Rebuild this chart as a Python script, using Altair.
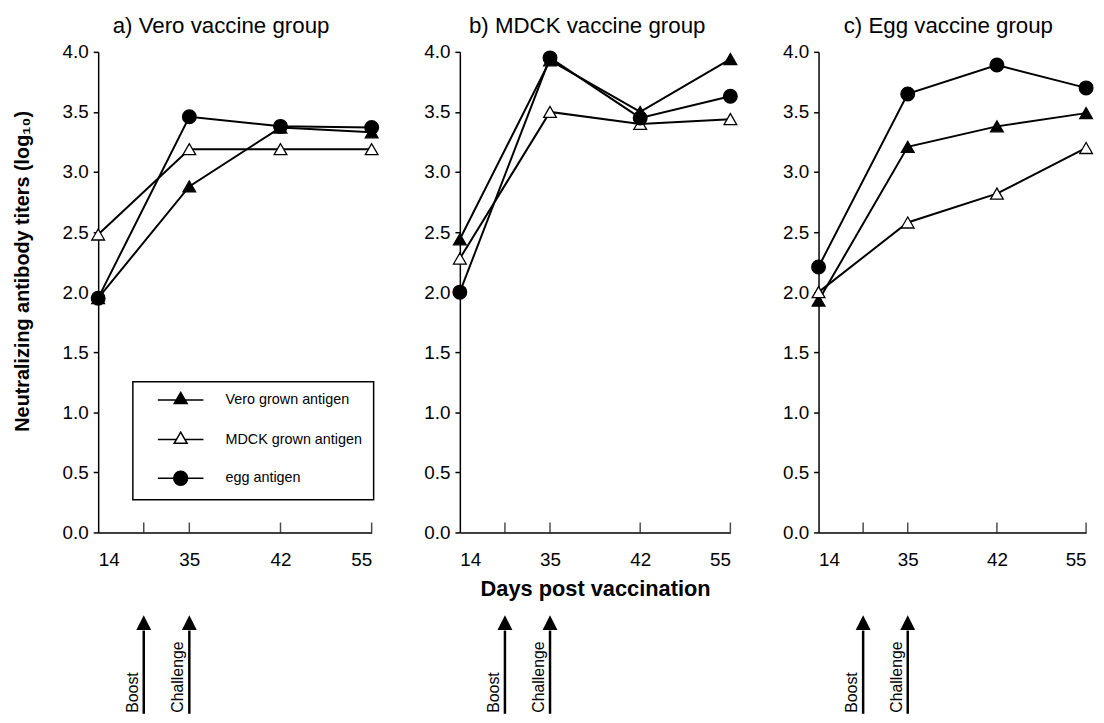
import altair as alt
import pandas as pd

FONT = "Liberation Sans"

# ---------------- data ----------------
days = [14, 35, 42, 55]
panel_titles = ["a) Vero vaccine group", "b) MDCK vaccine group", "c) Egg vaccine group"]
series_names = ["Vero grown antigen", "MDCK grown antigen", "egg antigen"]

# a) Vero vaccine group
vero_vero = [1.95, 2.88, 3.37, 3.33]
vero_mdck = [2.48, 3.19, 3.19, 3.19]
vero_egg = [1.95, 3.46, 3.38, 3.37]
# b) MDCK vaccine group
mdck_vero = [2.44, 3.93, 3.50, 3.94]
mdck_mdck = [2.28, 3.50, 3.40, 3.44]
mdck_egg = [2.00, 3.95, 3.45, 3.63]
# c) Egg vaccine group
egg_vero = [1.93, 3.21, 3.38, 3.49]
egg_mdck = [2.00, 2.58, 2.82, 3.20]
egg_egg = [2.21, 3.65, 3.89, 3.70]

event_names = ["Boost", "Challenge"]
event_slots = [0.5, 1.0]          # slot on the day axis (14 -> 0, 35 -> 1, 42 -> 2, 55 -> 3)

y_ticks = [0.0, 0.5, 1.0, 1.5, 2.0, 2.5, 3.0, 3.5, 4.0]

panel_values = [
    [vero_vero, vero_mdck, vero_egg],
    [mdck_vero, mdck_mdck, mdck_egg],
    [egg_vero, egg_mdck, egg_egg],
]

# ---------------- tables ----------------
def panel_frame(values):
    rows = []
    for s, vals in zip(series_names, values):
        for slot, (d, v) in enumerate(zip(days, vals)):
            rows.append({"series": s, "day": d, "slot": slot, "titer": v})
    return pd.DataFrame(rows)

events_df = pd.DataFrame({"event": event_names, "slot": event_slots})
tick_df = pd.DataFrame({"slot": sorted(set(event_slots + list(range(1, len(days)))))})
legend_df = pd.DataFrame({"series": series_names})

label_expr = "[" + ",".join("'%d'" % d for d in days) + "][datum.value]"

# legend glyphs (pixel units, symbol size 4): line with marker
legend_paths = [
    "M7,0L53,0M30,-7.5L36.5,3.75L23.5,3.75Z",
    "M7,0L25.7,0M34.3,0L53,0M30,-7.5L36.5,3.75L23.5,3.75Z",
    "M7,0L23,0M37,0L53,0M23,0A7,7 0 1,1 37,0A7,7 0 1,1 23,0Z",
]

PLOT_H = 485
widths = [276, 273, 270]
title_dx = [-14, -8, -4]


def make_panel(i):
    df = panel_frame(panel_values[i])
    xscale = alt.Scale(domain=[0, len(days) - 1], nice=False, zero=False)
    yscale = alt.Scale(domain=[0, 4], nice=False)
    xaxis = alt.Axis(
        values=list(range(len(days))), labelExpr=label_expr, ticks=False,
        labelPadding=18, labelFontSize=19, labelFont=FONT, labelColor="black",
        domainColor="black", domainWidth=1.5, grid=False,
        title="Days post vaccination" if i == 1 else None,
        titleFont=FONT, titleFontSize=22, titleFontWeight="bold", titleColor="black",
        titlePadding=10,
    )
    yopts = dict(
        values=y_ticks, format=".1f", tickSize=5, tickWidth=1.5, tickColor="black",
        labelPadding=5, labelFontSize=19, labelFont=FONT, labelColor="black",
        domainColor="black", domainWidth=1.5, grid=False,
        titleFont=FONT, titleFontSize=20, titleFontWeight="bold", titleColor="black",
    )
    if i == 0:
        yopts.update(title="Neutralizing antibody titers (log₁₀)", titleX=-66, titleY=221)
    else:
        yopts.update(title=None)
    yaxis = alt.Axis(**yopts)

    base = alt.Chart(df)
    x = alt.X("slot:Q", scale=xscale, axis=xaxis)
    y = alt.Y("titer:Q", scale=yscale, axis=yaxis)

    lines = base.mark_line(color="black", strokeWidth=2).encode(
        x=x, y=y, detail="series:N", order="slot:Q"
    )
    points = base.mark_point(filled=True, stroke="black", strokeWidth=1.3, opacity=1).encode(
        x="slot:Q", y="titer:Q",
        shape=alt.condition(alt.datum.series == "egg antigen", alt.value("circle"), alt.value("triangle-up")),
        fill=alt.condition(alt.datum.series == "MDCK grown antigen", alt.value("white"), alt.value("black")),
        size=alt.condition(alt.datum.series == "egg antigen", alt.value(190), alt.value(165)),
    )
    ticks = alt.Chart(tick_df).mark_tick(
        orient="vertical", size=10, thickness=1.5, color="black", yOffset=-5
    ).encode(x="slot:Q", y=alt.datum(0))

    heads = alt.Chart(events_df).mark_point(
        shape="M0,-1L1,1L-1,1Z", filled=True, color="black", size=225, opacity=1
    ).encode(x="slot:Q", y=alt.value(576))
    shafts = alt.Chart(events_df).mark_rule(color="black", strokeWidth=2.5).encode(
        x="slot:Q", y=alt.value(584), y2=alt.value(668)
    )
    texts = alt.Chart(events_df).mark_text(
        angle=270, align="left", baseline="alphabetic", dy=-6, fontSize=16, font=FONT, color="black"
    ).encode(x="slot:Q", y=alt.value(667), text="event:N")

    layers = [lines, points, ticks, heads, shafts, texts]

    if i == 0:
        leg = alt.Legend(
            orient="none", legendX=35, legendY=333, direction="vertical", title=None,
            symbolSize=4, labelOffset=68, rowPadding=22, padding=11,
            labelFont=FONT, labelFontSize=14.5, labelColor="black",
            strokeColor="black", symbolStrokeWidth=1.5,
        )
        legend_layer = alt.Chart(legend_df).transform_filter("false").mark_point(
            filled=False, strokeWidth=1.5, opacity=1
        ).encode(
            shape=alt.Shape("series:N", scale=alt.Scale(domain=series_names, range=legend_paths), legend=leg),
            fill=alt.Fill("series:N", scale=alt.Scale(domain=series_names, range=["black", "white", "black"]), legend=leg),
            stroke=alt.Stroke("series:N", scale=alt.Scale(domain=series_names, range=["black", "black", "black"]), legend=leg),
        )
        layers.append(legend_layer)

    return alt.layer(*layers).properties(
        width=widths[i], height=PLOT_H,
        title=alt.TitleParams(panel_titles[i], font=FONT, fontSize=22.5, fontWeight="normal",
                              color="black", anchor="middle", offset=6, dx=title_dx[i]),
    )


chart = alt.hconcat(*[make_panel(i) for i in range(3)], spacing=42).properties(
    padding={"left": 5, "top": 3, "right": 0, "bottom": 0},
    background="white",
).configure_view(stroke=None).configure_legend(strokeWidth=1.5)

chart.save("out.html", embed_options={"renderer": "svg", "actions": False})
